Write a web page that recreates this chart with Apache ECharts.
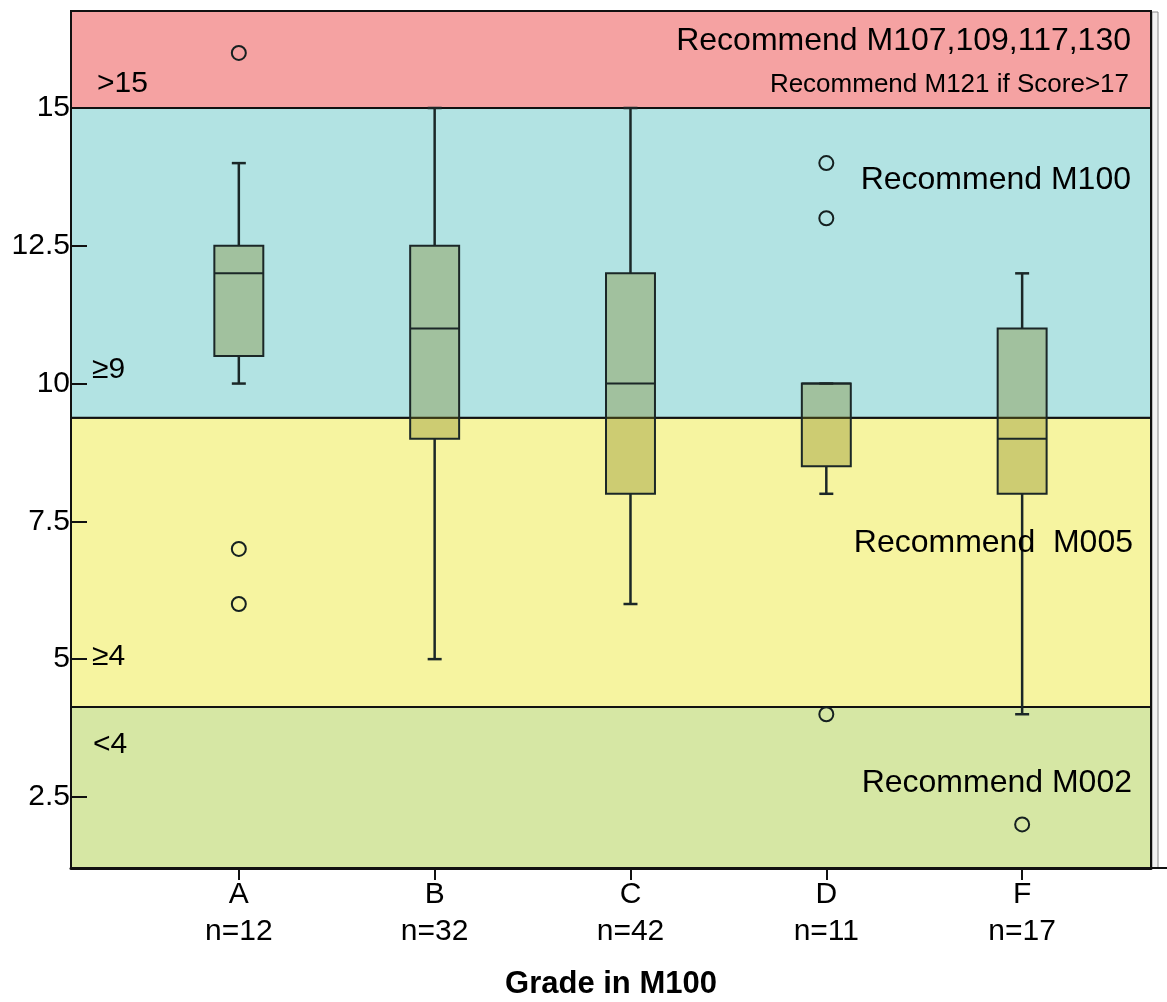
<!DOCTYPE html>
<html>
<head>
<meta charset="utf-8">
<title>Grade in M100</title>
<script src="https://cdn.jsdelivr.net/npm/echarts@6/dist/echarts.min.js"></script>
<style>
  html, body { margin: 0; padding: 0; background: #fff; }
  #chart { width: 1167px; height: 1002px; }
</style>
</head>
<body>
<div id="chart"></div>
<script>
const grades = ["A", "B", "C", "D", "F"];
const counts = [12, 32, 42, 11, 17];
// [min, q1, median, q3, max] per grade
const boxStats = [
  [10, 10.5, 12, 12.5, 14],
  [5, 9, 11, 12.5, 15],
  [6, 8, 10, 12, 15],
  [8, 8.5, 10, 10, 10],
  [4, 8, 9, 11, 12]
];
const outliers = [
  ["A", 16], ["A", 7], ["A", 6],
  ["D", 14], ["D", 13], ["D", 4],
  ["F", 2]
];
const yTicks = [2.5, 5, 7.5, 10, 12.5, 15];
// score bands, low -> high
const bandRanges = [
  [1.21, 4.13],
  [4.13, 9.38],
  [9.38, 15],
  [15, 16.76]
];
const bandColors = ["#d6e7a4", "#f6f4a0", "#b2e3e3", "#f5a2a2"];
const yMin = 1.21;
const yMax = 16.76;

const font = '"Liberation Sans", Arial, sans-serif';
const ink = "#1b2727";

function renderBand(params, api) {
  const cs = params.coordSys;
  const top = api.coord([1, api.value(1)])[1];
  const bottom = api.coord([1, api.value(0)])[1];
  return {
    type: "rect",
    shape: { x: cs.x, y: top, width: cs.width, height: bottom - top },
    style: { fill: bandColors[params.dataIndex], stroke: "#111", lineWidth: 2 }
  };
}

function renderBox(params, api) {
  const x = api.value(0);
  const half = api.size([1, 0])[0] * 0.125;
  const cap = 7;
  const lo = api.coord([x, api.value(1)]);
  const q1 = api.coord([x, api.value(2)]);
  const md = api.coord([x, api.value(3)]);
  const q3 = api.coord([x, api.value(4)]);
  const hi = api.coord([x, api.value(5)]);
  const line = { stroke: ink, lineWidth: 2.5 };
  return {
    type: "group",
    children: [
      { type: "line", shape: { x1: lo[0], y1: lo[1], x2: q1[0], y2: q1[1] }, style: line },
      { type: "line", shape: { x1: hi[0], y1: hi[1], x2: q3[0], y2: q3[1] }, style: line },
      { type: "line", shape: { x1: lo[0] - cap, y1: lo[1], x2: lo[0] + cap, y2: lo[1] }, style: line },
      { type: "line", shape: { x1: hi[0] - cap, y1: hi[1], x2: hi[0] + cap, y2: hi[1] }, style: line },
      {
        type: "rect",
        shape: { x: q3[0] - half, y: q3[1], width: half * 2, height: q1[1] - q3[1] },
        style: { fill: "rgba(130,130,30,0.35)", stroke: ink, lineWidth: 2 }
      },
      { type: "line", shape: { x1: md[0] - half, y1: md[1], x2: md[0] + half, y2: md[1] }, style: { stroke: ink, lineWidth: 2 } }
    ]
  };
}

function note(text, x, y, size, align) {
  return {
    type: "text",
    x: x,
    y: y,
    z: 100,
    style: {
      text: text,
      align: align || "right",
      verticalAlign: "middle",
      fontSize: size,
      fontFamily: font,
      fill: "#000"
    }
  };
}

const chart = echarts.init(document.getElementById("chart"));
chart.setOption({
  animation: false,
  backgroundColor: "#fff",
  grid: { left: 71, right: 16, top: 11, bottom: 134, outerBoundsMode: "none", containLabel: false },
  xAxis: {
    type: "value",
    min: 0.143,
    max: 5.658,
    z: 10,
    name: "Grade in M100",
    nameLocation: "middle",
    nameGap: 101,
    nameTextStyle: { fontSize: 31, fontWeight: "bold", fontFamily: font, color: "#000" },
    axisLine: { show: true, onZero: false, lineStyle: { color: "#111", width: 3 } },
    axisTick: { show: true, customValues: [1, 2, 3, 4, 5], length: 12, lineStyle: { color: "#111", width: 2 } },
    axisLabel: {
      customValues: [1, 2, 3, 4, 5],
      formatter: v => grades[v - 1] + "\nn=" + counts[v - 1],
      fontSize: 30,
      lineHeight: 37,
      margin: 8,
      fontFamily: font,
      color: "#000"
    },
    splitLine: { show: false }
  },
  yAxis: {
    type: "value",
    min: yMin,
    max: yMax,
    z: 10,
    axisLine: { show: true, onZero: false, lineStyle: { color: "#111", width: 2 } },
    axisTick: { show: true, inside: true, customValues: yTicks, length: 16, lineStyle: { color: "#111", width: 2 } },
    axisLabel: {
      customValues: yTicks,
      formatter: v => String(v),
      fontSize: 30,
      margin: 1,
      fontFamily: font,
      color: "#000"
    },
    splitLine: { show: false }
  },
  series: [
    {
      type: "custom",
      z: 1,
      renderItem: renderBand,
      encode: { x: -1, y: [0, 1] },
      data: bandRanges
    },
    {
      type: "custom",
      z: 3,
      renderItem: renderBox,
      encode: { x: 0, y: [1, 2, 3, 4, 5] },
      data: boxStats.map((s, i) => [i + 1].concat(s))
    },
    {
      type: "scatter",
      z: 4,
      symbol: "circle",
      symbolSize: 14,
      itemStyle: { color: "rgba(0,0,0,0)", borderColor: "#152020", borderWidth: 2, opacity: 1 },
      data: outliers.map(o => [grades.indexOf(o[0]) + 1, o[1]])
    }
  ],
  graphic: [
    // thin shadow strip on the right edge of the plot
    { type: "rect", z: 0, shape: { x: 1152, y: 12, width: 6, height: 856 }, style: { fill: "#f2f2f2", stroke: "#888", lineWidth: 1 } },
    { type: "line", z: 0, shape: { x1: 1151, y1: 868, x2: 1167, y2: 868 }, style: { stroke: "#111", lineWidth: 2 } },
    note("Recommend M107,109,117,130", 1131, 41, 32),
    note("Recommend M121 if Score>17", 1129, 85, 26),
    note("Recommend M100", 1131, 180, 32),
    note("Recommend  M005", 1133, 543, 32),
    note("Recommend M002", 1132, 783, 32),
    note(">15", 97, 84, 30, "left"),
    note("\u22659", 92, 370, 30, "left"),
    note("\u22654", 92, 657, 30, "left"),
    note("<4", 93, 745, 30, "left")
  ]
});
</script>
</body>
</html>
